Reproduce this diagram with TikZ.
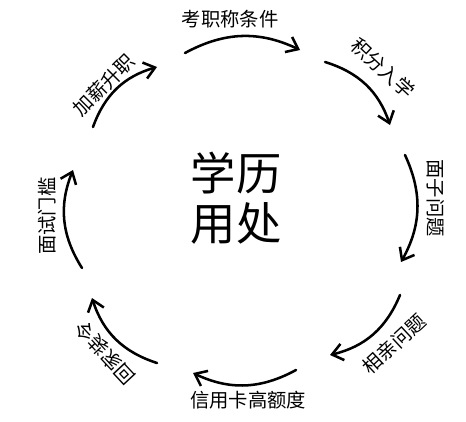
\documentclass[tikz,border=0pt]{standalone}
\usepackage{fontspec}
\setmainfont{Noto Sans CJK SC}
\usetikzlibrary{arrows.meta}
\begin{document}
\begin{tikzpicture}[x=0.75pt,y=-0.75pt,
  lbl/.style={font=\fontsize{14.5}{16}\selectfont, inner sep=0pt},
  arr/.style={line width=1.9pt, line cap=round,
    -{Straight Barb[length=8pt,width=12.5pt,line width=1.9pt]}, bend left=27}]
\useasboundingbox (0,0) rectangle (466,421);
\fill[white] (0,0) rectangle (466,421);
\node[font=\fontsize{34}{37.5}\selectfont, align=center, inner sep=0pt] (c) at (236,198) {学历\\用处};
\node[lbl] (t1) at (230,19) {考职称条件};
\node[lbl, rotate=-43] (t2) at (383,68) {积分入学};
\node[lbl, rotate=-90] (t3) at (436,198) {面子问题};
\node[lbl, rotate=43] (t4) at (394,344) {相亲问题};
\node[lbl] (t5) at (248,400) {信用卡高额度};
\node[lbl, rotate=133] (t6) at (105,353) {回家装令};
\node[lbl, rotate=90] (t7) at (47,216) {面试门槛};
\node[lbl, rotate=45] (t8) at (104,85) {加薪升职};
\coordinate (a1s) at (185,53);  \coordinate (a1e) at (300,50);
\coordinate (a2s) at (325,62);  \coordinate (a2e) at (390,125);
\coordinate (a3s) at (405,155); \coordinate (a3e) at (401,262);
\coordinate (a4s) at (400,295); \coordinate (a4e) at (330,355);
\coordinate (a5s) at (296,370); \coordinate (a5e) at (193,373);
\coordinate (a6s) at (157,363); \coordinate (a6e) at (92,298);
\coordinate (a7s) at (82,268);  \coordinate (a7e) at (73,170);
\coordinate (a8s) at (93,127);  \coordinate (a8e) at (157,67);
\draw[arr] (a1s) to (a1e);
\draw[arr] (a2s) to (a2e);
\draw[arr] (a3s) to (a3e);
\draw[arr] (a4s) to (a4e);
\draw[arr] (a5s) to (a5e);
\draw[arr] (a6s) to (a6e);
\draw[arr] (a7s) to (a7e);
\draw[arr] (a8s) to (a8e);
\end{tikzpicture}
\end{document}
